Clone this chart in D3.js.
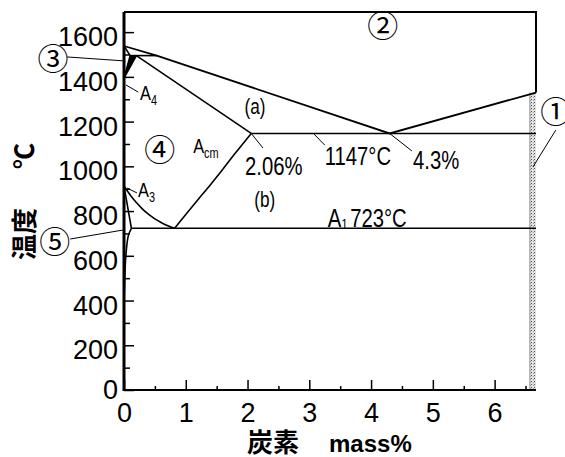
<!DOCTYPE html>
<html>
<head>
<meta charset="utf-8">
<script src="https://cdn.jsdelivr.net/npm/d3@7"></script>
<style>
  body { margin: 0; background: #fff; }
  svg { display: block; }
  .tick text { font-family: "Liberation Sans", Arial, sans-serif; font-size: 27px; fill: #000; }
  .note { font-family: "Liberation Sans", Arial, sans-serif; fill: #000; }
  .cjk { font-family: "Noto Sans CJK JP", sans-serif; fill: #000; }
</style>
</head>
<body>
<svg id="chart" width="565" height="457"></svg>
<script>
// axis ticks
var tempTicks = [0, 200, 400, 600, 800, 1000, 1200, 1400, 1600];
var tempMinor = [100, 300, 500, 700, 900, 1100, 1300, 1500];
var carbonTicks = [0, 1, 2, 3, 4, 5, 6];
var carbonMinor = [0.5, 1.5, 2.5, 3.5, 4.5, 5.5, 6.5];

// phase boundaries, [carbon mass%, temperature C]
var liquidus = [[0, 1538], [0.53, 1495], [4.3, 1147], [6.67, 1330]];
var deltaSolidus = [[0, 1538], [0.1, 1495]];
var peritectic = [[0.1, 1495], [0.53, 1495]];
var deltaLower = [[0.1, 1495], [0, 1394]];
var gammaUpper = [[0.2, 1495], [0, 1394]];
var gammaSolidus = [[0.2, 1495], [2.06, 1147]];
var a3Line = [[0, 912], [0.1, 872], [0.2, 838], [0.3, 809], [0.4, 785], [0.5, 765], [0.6, 749], [0.7, 735], [0.82, 723]];
var acmLine = [[0.82, 723], [1.0, 785], [1.2, 852], [1.4, 918], [1.6, 987], [1.8, 1058], [2.06, 1147]];
var alphaGamma = [[0, 912], [0.12, 723]];
var ferriteSolvus = [[0.12, 723], [0.07, 690], [0.03, 600], [0.01, 480], [0, 380]];
var eutectic = [[2.06, 1147], [6.67, 1147]];
var eutectoid = [[0.12, 723], [6.67, 723]];
var cementite = [6.57, 6.67, 1330];

// labels: [text, carbon, temp]
var circled = [['①', 6.99, 1252], ['②', 4.19, 1640], ['③', -1.15, 1489], ['④', 0.58, 1082], ['⑤', -1.12, 671]];
var leaders = [
  [[-0.92, 1489], [0.02, 1471]],
  [[0.03, 1364], [0.23, 1332]],
  [[0.05, 903], [0.21, 881]],
  [[2.06, 1147], [2.25, 1082]],
  [[3.06, 1149], [3.25, 1095]],
  [[4.3, 1147], [4.66, 1069]],
  [[6.99, 1162], [6.62, 997]],
  [[-0.87, 675], [-0.02, 715]]
];

var svg = d3.select('#chart');
var x = d3.scaleLinear().domain([0, 6.67]).range([124, 536]);
var y = d3.scaleLinear().domain([0, 1690]).range([390, 12]);
var line = d3.line().x(function (d) { return x(d[0]); }).y(function (d) { return y(d[1]); });

var defs = svg.append('defs');
var pat = defs.append('pattern').attr('id', 'stip').attr('width', 3).attr('height', 3)
  .attr('patternUnits', 'userSpaceOnUse');
pat.append('rect').attr('width', 3).attr('height', 3).attr('fill', '#e2e2e2');
pat.append('rect').attr('width', 1).attr('height', 1).attr('fill', '#555');
pat.append('rect').attr('x', 2).attr('y', 1).attr('width', 1).attr('height', 1).attr('fill', '#999');

// cementite strip
svg.append('rect')
  .attr('x', x(cementite[0])).attr('y', y(cementite[2]))
  .attr('width', x(cementite[1]) - x(cementite[0]))
  .attr('height', y(0) - y(cementite[2]))
  .attr('fill', 'url(#stip)');
svg.append('line').attr('x1', x(cementite[0])).attr('x2', x(cementite[0]))
  .attr('y1', y(cementite[2])).attr('y2', y(0)).attr('stroke', '#999').attr('stroke-width', 1);

// frame
svg.append('path')
  .attr('d', 'M' + x(0) + ',' + y(1690) + 'H' + x(6.67) + 'V' + y(cementite[2]))
  .attr('fill', 'none').attr('stroke', '#000').attr('stroke-width', 2);

// axes
var yAxis = svg.append('g').attr('transform', 'translate(' + x(0) + ',0)')
  .call(d3.axisLeft(y).tickValues(tempTicks).tickSize(-10).tickPadding(6).tickFormat(d3.format('d')));
yAxis.selectAll('.tick text').attr('dy', '0.5em');
var yMinor = svg.append('g').attr('transform', 'translate(' + x(0) + ',0)')
  .call(d3.axisLeft(y).tickValues(tempMinor).tickSize(-6).tickFormat(''));
var xAxis = svg.append('g').attr('transform', 'translate(0,' + y(0) + ')')
  .call(d3.axisBottom(x).tickValues(carbonTicks).tickSize(-10).tickPadding(13).tickFormat(d3.format('d')));
var xMinor = svg.append('g').attr('transform', 'translate(0,' + y(0) + ')')
  .call(d3.axisBottom(x).tickValues(carbonMinor).tickSize(-4).tickFormat(''));
[yAxis, yMinor, xAxis, xMinor].forEach(function (g) {
  g.select('.domain').remove();
  g.selectAll('.tick line').attr('stroke', '#000').attr('stroke-width', 1.5);
});
yAxis.selectAll('.tick').filter(function (d) { return d === 0; }).select('text').attr('dy', '0.3em');
svg.append('line').attr('x1', x(0)).attr('x2', x(0)).attr('y1', y(1690)).attr('y2', y(0) + 1)
  .attr('stroke', '#000').attr('stroke-width', 3);
svg.append('line').attr('x1', x(0)).attr('x2', x(6.67)).attr('y1', y(0)).attr('y2', y(0))
  .attr('stroke', '#000').attr('stroke-width', 2);

// delta + gamma wedge
svg.append('path').attr('d', line([[0.1, 1495], [0.2, 1495], [0, 1394]]) + 'Z')
  .attr('fill', '#000');

// phase lines
var plain = [deltaSolidus, peritectic, deltaLower, gammaUpper, gammaSolidus, alphaGamma, eutectic, eutectoid];
plain.forEach(function (d) {
  svg.append('path').attr('d', line(d)).attr('fill', 'none').attr('stroke', '#000').attr('stroke-width', 1.6);
});
svg.append('path').attr('d', line(liquidus)).attr('fill', 'none').attr('stroke', '#000').attr('stroke-width', 1.8);
var curve = d3.line().curve(d3.curveCatmullRom)
  .x(function (d) { return x(d[0]); }).y(function (d) { return y(d[1]); });
[a3Line, acmLine, ferriteSolvus].forEach(function (d) {
  svg.append('path').attr('d', curve(d)).attr('fill', 'none').attr('stroke', '#000').attr('stroke-width', 1.6);
});

// leaders
leaders.forEach(function (d) {
  svg.append('path').attr('d', line(d)).attr('fill', 'none').attr('stroke', '#000').attr('stroke-width', 1);
});

// circled numbers
svg.selectAll('.circ').data(circled).enter().append('text')
  .attr('class', 'cjk circ')
  .attr('x', function (d) { return x(d[1]); })
  .attr('y', function (d) { return y(d[2]); })
  .attr('text-anchor', 'middle').attr('dominant-baseline', 'central')
  .attr('font-size', 31)
  .text(function (d) { return d[0]; });

// annotation text, squeezed horizontally like the narrow print face
function note(c, t, size, anchor) {
  var g = svg.append('g').attr('transform', 'translate(' + x(c) + ',' + y(t) + ') scale(0.78,1)');
  return g.append('text').attr('class', 'note').attr('font-size', size)
    .attr('text-anchor', anchor || 'start');
}
note(2.12, 1234, 22, 'middle').text('(a)');
note(2.28, 818, 22, 'middle').text('(b)');
note(1.96, 961, 26).text('2.06%');
note(3.25, 1006, 26).text('1147°C');
note(4.68, 988, 26).text('4.3%');
function phase(main, sub, c, t) {
  var tx = note(c, t, 21);
  tx.append('tspan').text(main);
  tx.append('tspan').attr('dy', 5).attr('font-size', 14).text(sub);
}
phase('A', '4', 0.26, 1297);
phase('A', '3', 0.227, 863);
phase('A', 'cm', 1.12, 1060);
var a1 = note(3.3, 729, 26);
a1.append('tspan').text('A');
a1.append('tspan').attr('dy', 2).attr('font-size', 15).text('1');
a1.append('tspan').attr('dy', -2).attr('dx', 3).text('723°C');

// axis titles
svg.append('text').attr('class', 'cjk').attr('font-size', 26).attr('font-weight', 'bold')
  .attr('transform', 'translate(34,234) rotate(-90)').attr('text-anchor', 'middle').text('温度');
svg.append('text').attr('class', 'cjk').attr('font-size', 26).attr('font-weight', 'bold')
  .attr('transform', 'translate(34,156) rotate(-90)').attr('text-anchor', 'middle').text('℃');
var xt = svg.append('text').attr('x', 247).attr('y', 452).attr('font-size', 26).attr('font-weight', 'bold');
xt.append('tspan').attr('class', 'cjk').text('炭素');
xt.append('tspan').attr('dx', 30).attr('font-family', '"Liberation Sans", Arial, sans-serif')
  .attr('font-size', 24).text('mass%');
</script>
</body>
</html>
